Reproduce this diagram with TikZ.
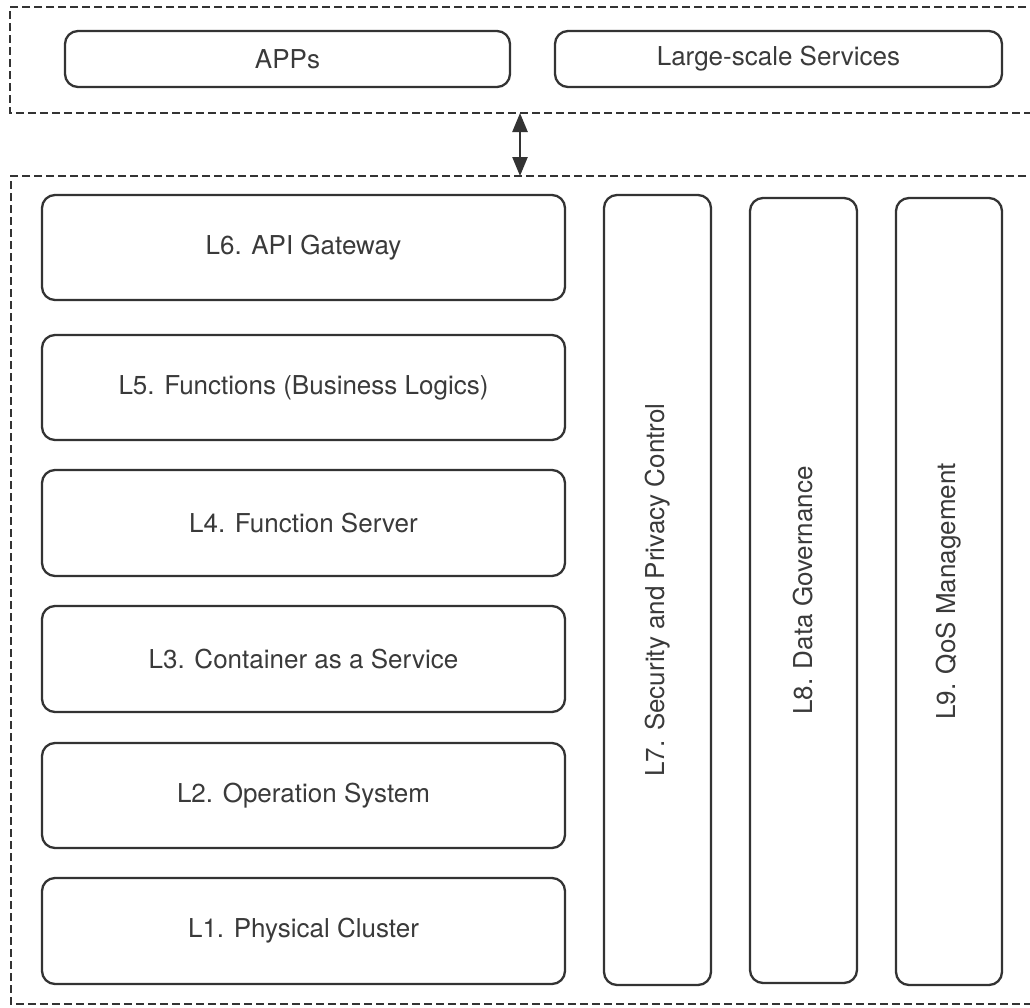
\documentclass[tikz,border=0pt]{standalone}
\usepackage{fontspec}
\setmainfont{TeX Gyre Heros}
\usetikzlibrary{arrows.meta}
\definecolor{ln}{HTML}{333333}
\definecolor{tx}{HTML}{3A3A3A}
\tikzset{
  layer/.style={draw=ln, line width=2.3pt, rounded corners=13pt, text=tx, font=\fontsize{26}{30}\selectfont},
  group/.style={draw=ln, line width=2pt, dash pattern=on 8pt off 4pt},
}
\begin{document}
\begin{tikzpicture}[x=1pt,y=-1pt]
\useasboundingbox (0,0) rectangle (1030,1007);
\clip (0,0) rectangle (1030,1007);
% groups
\draw[group] (1050,7) -- (10,7) -- (10,113) -- (1050,113);
\draw[group] (1050,176) -- (11,176) -- (11,1004) -- (1050,1004);
% top layer
\node[layer, minimum width=445pt, minimum height=56pt] (apps) at (287.5,59) {APPs};
\node[layer, minimum width=447pt, minimum height=56pt] (lss) at (778.5,59) {Large-scale Services};
% stack
\node[layer, minimum width=523pt, minimum height=105pt] (l6) at (303.5,247.5) {L6. API Gateway};
\node[layer, minimum width=523pt, minimum height=105pt] (l5) at (303.5,387.5) {L5. Functions (Business Logics)};
\node[layer, minimum width=523pt, minimum height=106pt] (l4) at (303.5,523) {L4. Function Server};
\node[layer, minimum width=523pt, minimum height=106pt] (l3) at (303.5,659) {L3. Container as a Service};
\node[layer, minimum width=523pt, minimum height=105pt] (l2) at (303.5,795.5) {L2. Operation System};
\node[layer, minimum width=523pt, minimum height=106pt] (l1) at (303.5,931) {L1. Physical Cluster};
% vertical
\node[layer, minimum width=790pt, minimum height=107pt, rotate=90] (l7) at (657.5,590) {L7. Security and Privacy Control};
\node[layer, minimum width=785pt, minimum height=107pt, rotate=90] (l8) at (803.5,590.5) {L8. Data Governance};
\node[layer, minimum width=787pt, minimum height=106pt, rotate=90] (l9) at (949,591.5) {L9. QoS Management};
% arrow
\coordinate (a1) at (520,113);
\coordinate (a2) at (520,176);
\draw[ln, line width=2.5pt, {Triangle[length=19pt,width=15pt]}-{Triangle[length=19pt,width=15pt]}] (a1) -- (a2);
\end{tikzpicture}
\end{document}
